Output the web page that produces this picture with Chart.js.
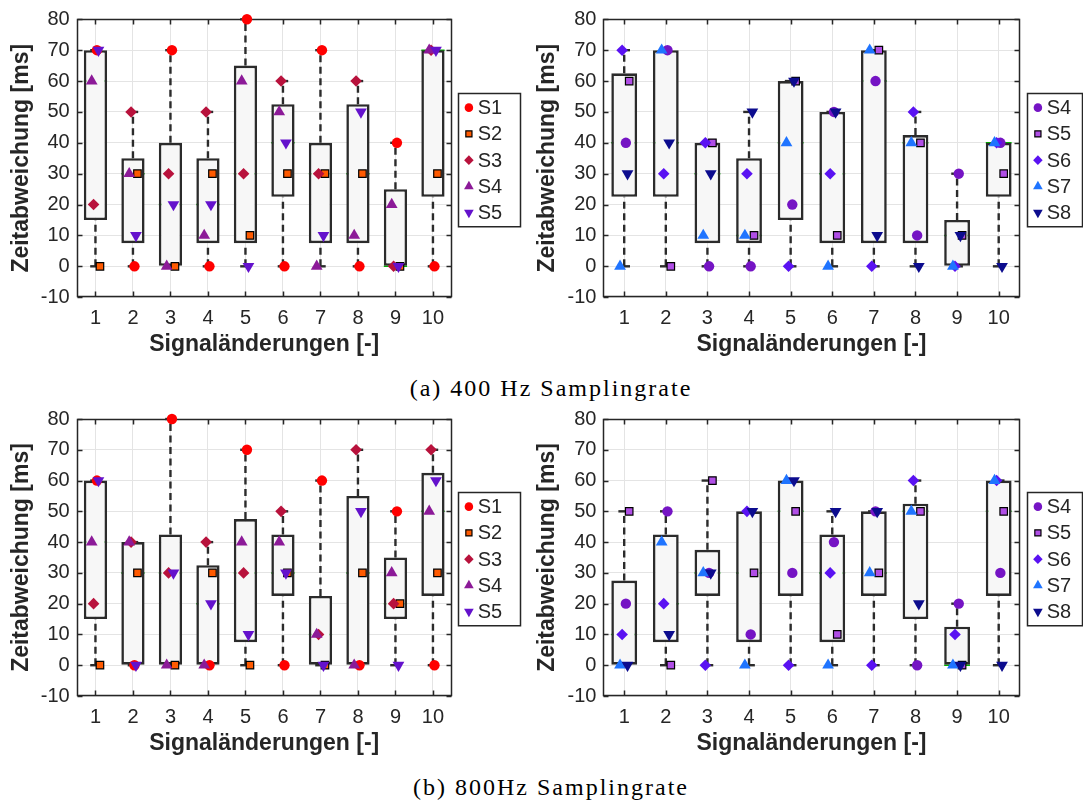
<!DOCTYPE html>
<html>
<head>
<meta charset="utf-8">
<script src="https://cdn.jsdelivr.net/npm/chart.js@4.4.1/dist/chart.umd.min.js"></script>
<style>
  html, body { margin: 0; padding: 0; background: #fff; }
  #page { position: relative; width: 1083px; height: 801px; overflow: hidden; }
  canvas { position: absolute; }
  .caption {
    position: absolute; left: 0; width: 1102px; text-align: center;
    font-family: "Liberation Serif", "Times New Roman", serif; font-size: 24px;
    letter-spacing: 2px; color: #000; line-height: 28px;
  }
</style>
</head>
<body>
<div id="page">
  <canvas id="c400a" width="540" height="365" style="left:0;top:0"></canvas>
  <canvas id="c400b" width="553" height="365" style="left:530px;top:0"></canvas>
  <div class="caption" style="top:374px">(a) 400 Hz Samplingrate</div>
  <canvas id="c800a" width="540" height="365" style="left:0;top:400px"></canvas>
  <canvas id="c800b" width="553" height="365" style="left:530px;top:400px"></canvas>
  <div class="caption" style="top:773px">(b) 800Hz Samplingrate</div>
</div>
<script>
// Signaländerungen 1..10
const categories = [1, 2, 3, 4, 5, 6, 7, 8, 9, 10];
const yTickValues = [-10, 0, 10, 20, 30, 40, 50, 60, 70, 80];

// Zeitabweichung [ms] bei 400 Hz, Sensoren S1..S5
const s1At400 = [70, 0, 70, 0, 80, 0, 70, 0, 40, 0];
const s2At400 = [0, 30, 0, 30, 10, 30, 30, 30, 0, 30];
const s3At400 = [20, 50, 30, 50, 30, 60, 30, 60, 0, 70];
const s4At400 = [60, 30, 0, 10, 60, 50, 0, 10, 20, 70];
const s5At400 = [70, 10, 20, 20, 0, 40, 10, 50, 0, 70];

// 400 Hz, Sensoren S4..S8
const t4At400 = [40, 70, 0, 0, 20, 50, 60, 10, 30, 40];
const t5At400 = [60, 0, 40, 10, 60, 10, 70, 40, 10, 30];
const t6At400 = [70, 30, 40, 30, 0, 30, 0, 50, 0, 40];
const t7At400 = [0, 70, 10, 10, 40, 0, 70, 40, 0, 40];
const t8At400 = [30, 40, 30, 50, 60, 50, 10, 0, 10, 0];

// 800 Hz, Sensoren S1..S5
const s1At800 = [60, 0, 80, 0, 70, 0, 60, 0, 50, 0];
const s2At800 = [0, 30, 0, 30, 0, 30, 0, 30, 20, 30];
const s3At800 = [20, 40, 30, 40, 30, 50, 10, 70, 20, 70];
const s4At800 = [40, 40, 0, 0, 40, 40, 10, 0, 30, 50];
const s5At800 = [60, 0, 30, 20, 10, 30, 0, 50, 0, 60];

// 800 Hz, Sensoren S4..S8
const t4At800 = [20, 50, 30, 10, 30, 40, 50, 0, 20, 30];
const t5At800 = [50, 0, 60, 30, 50, 10, 30, 50, 0, 50];
const t6At800 = [10, 20, 0, 50, 0, 30, 0, 60, 10, 60];
const t7At800 = [0, 40, 30, 0, 60, 0, 30, 50, 0, 60];
const t8At800 = [0, 10, 30, 50, 60, 50, 50, 20, 0, 0];

const FONT = '"Liberation Sans", Arial, Helvetica, sans-serif';
const AXIS_COLOR = '#262626';
const BOX_COLOR = '#2b2b2b';

// marker looks, one entry per sensor
const stylesS1toS5 = [
  {label: 'S1', pointStyle: 'circle', pointRadius: 5.2, backgroundColor: '#ff0000', borderColor: '#ff0000', borderWidth: 0},
  {label: 'S2', pointStyle: 'rect', pointRadius: 5.3, backgroundColor: '#ff5a00', borderColor: '#000000', borderWidth: 1.2},
  {label: 'S3', pointStyle: 'rectRot', pointRadius: 5.8, backgroundColor: '#b8123c', borderColor: '#b8123c', borderWidth: 0},
  {label: 'S4', pointStyle: 'triangle', pointRadius: 6.8, backgroundColor: '#8c1a98', borderColor: '#8c1a98', borderWidth: 0},
  {label: 'S5', pointStyle: 'triangle', pointRotation: 180, pointRadius: 6.8, backgroundColor: '#6412cc', borderColor: '#6412cc', borderWidth: 0}
];
const stylesS4toS8 = [
  {label: 'S4', pointStyle: 'circle', pointRadius: 5.2, backgroundColor: '#7514c4', borderColor: '#7514c4', borderWidth: 0},
  {label: 'S5', pointStyle: 'rect', pointRadius: 5.3, backgroundColor: '#b04ee6', borderColor: '#000000', borderWidth: 1.2},
  {label: 'S6', pointStyle: 'rectRot', pointRadius: 5.8, backgroundColor: '#5a12f2', borderColor: '#5a12f2', borderWidth: 0},
  {label: 'S7', pointStyle: 'triangle', pointRadius: 6.8, backgroundColor: '#1f74ff', borderColor: '#1f74ff', borderWidth: 0},
  {label: 'S8', pointStyle: 'triangle', pointRotation: 180, pointRadius: 6.8, backgroundColor: '#0c0c8e', borderColor: '#0c0c8e', borderWidth: 0}
];
// small sideways shift per sensor so equal values don't hide each other
const markerShift = [0.04, 0.12, -0.05, -0.1, 0.08];
const BOX_FRACTION = 0.62;

// percentile the way MATLAB's prctile does it
function prctile(sorted, p) {
  const n = sorted.length;
  const pos = n * p + 0.5;
  if (pos <= 1) return sorted[0];
  if (pos >= n) return sorted[n - 1];
  const lo = Math.floor(pos);
  return sorted[lo - 1] + (pos - lo) * (sorted[lo] - sorted[lo - 1]);
}

function categoryWidth(chart) {
  const s = chart.scales.x;
  return Math.abs(s.getPixelForValue(1) - s.getPixelForValue(0));
}

// plot frame with inward tick marks
const axesFrame = {
  id: 'axesFrame',
  beforeDatasetsDraw(chart) {
    const {ctx, chartArea: a, scales: {x, y}} = chart;
    const l = Math.round(a.left) + 0.5, r = Math.round(a.right) - 0.5;
    const t = Math.round(a.top) + 0.5, b = Math.round(a.bottom) - 0.5;
    ctx.save();
    ctx.strokeStyle = AXIS_COLOR;
    ctx.lineWidth = 1.5;
    ctx.strokeRect(l, t, r - l, b - t);
    ctx.beginPath();
    x.ticks.forEach(tk => {
      const px = Math.round(x.getPixelForValue(tk.value)) + 0.5;
      ctx.moveTo(px, b); ctx.lineTo(px, b - 5);
      ctx.moveTo(px, t); ctx.lineTo(px, t + 5);
    });
    y.ticks.forEach(tk => {
      const py = Math.round(y.getPixelForValue(tk.value)) + 0.5;
      ctx.moveTo(l, py); ctx.lineTo(l + 5, py);
      ctx.moveTo(r, py); ctx.lineTo(r - 5, py);
    });
    ctx.stroke();
    ctx.restore();
  }
};

// boxed legend to the right of the plot
const boxLegend = {
  id: 'boxLegend',
  afterDraw(chart, args, opts) {
    const {ctx, chartArea} = chart;
    const items = chart.data.datasets.filter(d => d.isSensor);
    const left = Math.round(chartArea.right + opts.gap) + 0.5;
    const top = Math.round(chartArea.top + opts.offsetTop) + 0.5;
    const height = opts.rowHeight * items.length + 2 * opts.padY;
    ctx.save();
    ctx.fillStyle = '#ffffff';
    ctx.fillRect(left, top, opts.width, height);
    ctx.strokeStyle = AXIS_COLOR;
    ctx.lineWidth = 1.5;
    ctx.strokeRect(left, top, opts.width, height);
    items.forEach((ds, i) => {
      const cy = top + opts.padY + opts.rowHeight * (i + 0.5);
      ctx.fillStyle = ds.backgroundColor;
      ctx.strokeStyle = ds.borderColor;
      ctx.lineWidth = ds.borderWidth;
      Chart.helpers.drawPoint(ctx, {
        pointStyle: ds.pointStyle,
        rotation: ds.pointRotation || 0,
        radius: ds.pointRadius * 0.82,
        borderWidth: ds.borderWidth
      }, left + opts.markerX, cy);
      ctx.fillStyle = AXIS_COLOR;
      ctx.font = '20px ' + FONT;
      ctx.textBaseline = 'middle';
      ctx.fillText(ds.label, left + opts.textX, cy + 1);
    });
    ctx.restore();
  }
};

function boxPanel(id, sensorValues, styles, area, legendGap, legendWidth) {
  const canvas = document.getElementById(id);
  const W = canvas.width, H = canvas.height;
  const xAxisHeight = 61;

  const stats = categories.map((c, i) => {
    const v = sensorValues.map(s => s[i]).sort((a, b) => a - b);
    return {
      x: c, min: v[0], max: v[v.length - 1],
      q1: prctile(v, 0.25), med: prctile(v, 0.5), q3: prctile(v, 0.75)
    };
  });

  const whiskerPoints = [];
  stats.forEach(s => {
    whiskerPoints.push({x: s.x, y: s.q3}, {x: s.x, y: s.max}, {x: s.x, y: null});
    whiskerPoints.push({x: s.x, y: s.min}, {x: s.x, y: s.q1}, {x: s.x, y: null});
  });
  const capPoints = [];
  stats.forEach(s => capPoints.push({x: s.x, y: s.min}, {x: s.x, y: s.max}));

  const datasets = [
    {
      type: 'scatter', order: 100,
      data: stats.map(s => ({x: s.x, y: s.med})),
      pointStyle: 'line', borderColor: '#00b400', borderWidth: 1.5,
      pointRadius: ctx => categoryWidth(ctx.chart) * BOX_FRACTION / 2
    },
    {
      type: 'line', order: 90,
      data: whiskerPoints,
      borderColor: BOX_COLOR, borderWidth: 2.4, borderDash: [7, 4.5],
      pointRadius: 0, fill: false, spanGaps: false
    },
    {
      type: 'bar', order: 80,
      data: stats.map(s => ({x: s.x, y: [s.q1, s.q3]})),
      backgroundColor: '#f7f7f7', borderColor: BOX_COLOR, borderWidth: 2.6,
      borderSkipped: false, categoryPercentage: 1, barPercentage: BOX_FRACTION
    },
    {
      type: 'scatter', order: 70, clip: false,
      data: capPoints,
      pointStyle: 'line', borderColor: BOX_COLOR, borderWidth: 2.4,
      pointRadius: ctx => categoryWidth(ctx.chart) * 0.14
    }
  ];

  sensorValues.forEach((vals, k) => {
    datasets.push(Object.assign({
      type: 'scatter', order: 20 - k, isSensor: true, clip: false,
      data: vals.map((v, i) => ({x: categories[i] + markerShift[k], y: v}))
    }, styles[k]));
  });

  const tickFont = {family: FONT, size: 20};
  const titleFont = {family: FONT, size: 23, weight: 'bold'};

  return new Chart(canvas, {
    type: 'bar',
    data: {datasets},
    options: {
      responsive: false,
      animation: false,
      events: [],
      layout: {
        padding: {left: 0, top: area.top, right: W - area.right, bottom: H - area.bottom - xAxisHeight}
      },
      plugins: {
        legend: {display: false},
        tooltip: {enabled: false},
        boxLegend: {
          gap: legendGap, width: legendWidth, offsetTop: 73.4,
          rowHeight: 26.25, padY: 1, markerX: 10.4, textX: 19.2
        }
      },
      scales: {
        x: {
          type: 'linear', min: 0.5, max: 10.5, offset: false,
          afterBuildTicks: s => { s.ticks = categories.map(v => ({value: v})); },
          afterFit: s => { s.height = xAxisHeight; },
          grid: {color: '#e4e4e4', drawTicks: false, offset: false},
          border: {display: false},
          ticks: {font: tickFont, color: AXIS_COLOR, padding: 9, autoSkip: false, maxRotation: 0},
          title: {display: true, text: 'Signaländerungen [-]', font: titleFont, color: AXIS_COLOR, padding: 0}
        },
        y: {
          type: 'linear', min: -10, max: 80,
          afterBuildTicks: s => { s.ticks = yTickValues.map(v => ({value: v})); },
          afterFit: s => { s.width = area.left; },
          grid: {color: '#e4e4e4', drawTicks: false},
          border: {display: false},
          ticks: {font: tickFont, color: AXIS_COLOR, padding: 7},
          title: {
            display: true, text: 'Zeitabweichung [ms]', font: titleFont, color: AXIS_COLOR,
            padding: {top: area.left - 55.5 - 13.8, bottom: 0}
          }
        }
      }
    },
    plugins: [axesFrame, boxLegend]
  });
}

boxPanel('c400a', [s1At400, s2At400, s3At400, s4At400, s5At400], stylesS1toS5,
  {left: 76.7, top: 19.3, right: 451.7, bottom: 297.2}, 6, 62);
boxPanel('c400b', [t4At400, t5At400, t6At400, t7At400, t8At400], stylesS4toS8,
  {left: 73.4, top: 19.3, right: 489.5, bottom: 297.2}, 7.2, 55);
boxPanel('c800a', [s1At800, s2At800, s3At800, s4At800, s5At800], stylesS1toS5,
  {left: 76.7, top: 18.3, right: 451.7, bottom: 296}, 6, 62);
boxPanel('c800b', [t4At800, t5At800, t6At800, t7At800, t8At800], stylesS4toS8,
  {left: 73.4, top: 18.3, right: 489.5, bottom: 296}, 7.2, 55);
</script>
</body>
</html>
